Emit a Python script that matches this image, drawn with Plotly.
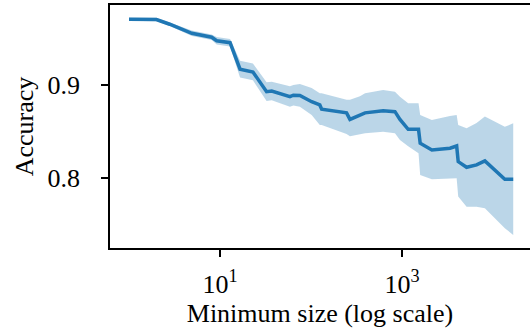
import plotly.graph_objects as go

# Minimum size (log scale)
min_size = [1, 2.0, 2.8, 4.9, 8.1, 9.2, 12.9, 14.3, 16.6, 23, 32.5, 37, 58.7, 64,
            75.5, 101.7, 125, 131, 246, 268, 345, 393, 620, 837, 950, 1170, 1520,
            1585, 2130, 3370, 3990, 4150, 5130, 6600, 8150, 13500, 16700]
# mean accuracy
acc_mean = [0.9706, 0.9704, 0.9653, 0.9556, 0.9513, 0.9476, 0.9455, 0.934, 0.917, 0.914,
            0.8928, 0.8935, 0.8875, 0.889, 0.8887, 0.882, 0.8785, 0.8739, 0.870, 0.863,
            0.8677, 0.870, 0.8724, 0.8713, 0.863, 0.8523, 0.8523, 0.8373, 0.830, 0.832,
            0.8344, 0.8176, 0.8115, 0.814, 0.8183, 0.7986, 0.7986]
acc_upper = [0.9722, 0.9724, 0.9673, 0.9586, 0.9543, 0.9516, 0.9495, 0.940, 0.926, 0.923,
             0.9028, 0.9035, 0.8985, 0.900, 0.901, 0.8968, 0.891, 0.891, 0.884, 0.884,
             0.888, 0.891, 0.8946, 0.8928, 0.8874, 0.8803, 0.8803, 0.8677, 0.8624, 0.8667,
             0.8677, 0.857, 0.8534, 0.859, 0.866, 0.855, 0.8588]
acc_lower = [0.9690, 0.9684, 0.9633, 0.9526, 0.9483, 0.9436, 0.9415, 0.928, 0.908, 0.905,
             0.8828, 0.8835, 0.8765, 0.878, 0.8767, 0.8677, 0.857, 0.857, 0.8473, 0.845,
             0.847, 0.848, 0.8498, 0.848, 0.8409, 0.834, 0.8266, 0.8032, 0.7986, 0.7997,
             0.7997, 0.780, 0.769, 0.769, 0.7674, 0.746, 0.7387]

x_ticks = [10, 1000]
x_ticktext = ["10<sup>1</sup>", "10<sup>3</sup>"]
y_ticks = [0.8, 0.9]
y_ticktext = ["0.8", "0.9"]

blue = "#1f77b4"
band = "rgba(31,119,180,0.3)"
font = "Liberation Serif, Times New Roman, serif"
fsize = 26

fig = go.Figure()
fig.add_trace(go.Scatter(x=min_size, y=acc_upper, mode="lines", line=dict(width=0),
                         hoverinfo="skip", showlegend=False))
fig.add_trace(go.Scatter(x=min_size, y=acc_lower, mode="lines", line=dict(width=0),
                         fill="tonexty", fillcolor=band, hoverinfo="skip", showlegend=False))
fig.add_trace(go.Scatter(x=min_size, y=acc_mean, mode="lines",
                         line=dict(color=blue, width=3.5), showlegend=False))

fig.update_layout(
    width=530, height=329,
    margin=dict(l=110, r=0, t=5, b=81, autoexpand=False),
    plot_bgcolor="white", paper_bgcolor="white",
    font=dict(family=font, size=fsize, color="black"),
)
fig.update_xaxes(
    type="log", range=[-0.209, 4.407], automargin=False,
    tickvals=x_ticks, ticktext=x_ticktext,
    tickfont=dict(family=font, size=fsize, color="black"),
    showgrid=False, zeroline=False,
    showline=True, linecolor="black", linewidth=1.5, mirror=True,
    ticks="outside", ticklen=7, tickwidth=1.5, tickcolor="black",
    ticklabelstandoff=5,
    title=dict(text="Minimum size (log scale)", standoff=6,
               font=dict(family=font, size=fsize, color="black")),
)
fig.update_yaxes(
    range=[0.7247, 0.986], automargin=False,
    tickvals=y_ticks, ticktext=y_ticktext,
    tickfont=dict(family=font, size=fsize, color="black"),
    showgrid=False, zeroline=False,
    showline=True, linecolor="black", linewidth=1.5, mirror=False,
    ticks="outside", ticklen=7, tickwidth=1.5, tickcolor="black",
    ticklabelstandoff=16,
    title=dict(text="Accuracy", standoff=6,
               font=dict(family=font, size=fsize, color="black")),
)
fig.write_html("out.html", config={"displayModeBar": False},
               post_script="document.body.style.margin='0';document.body.style.overflow='hidden';")
